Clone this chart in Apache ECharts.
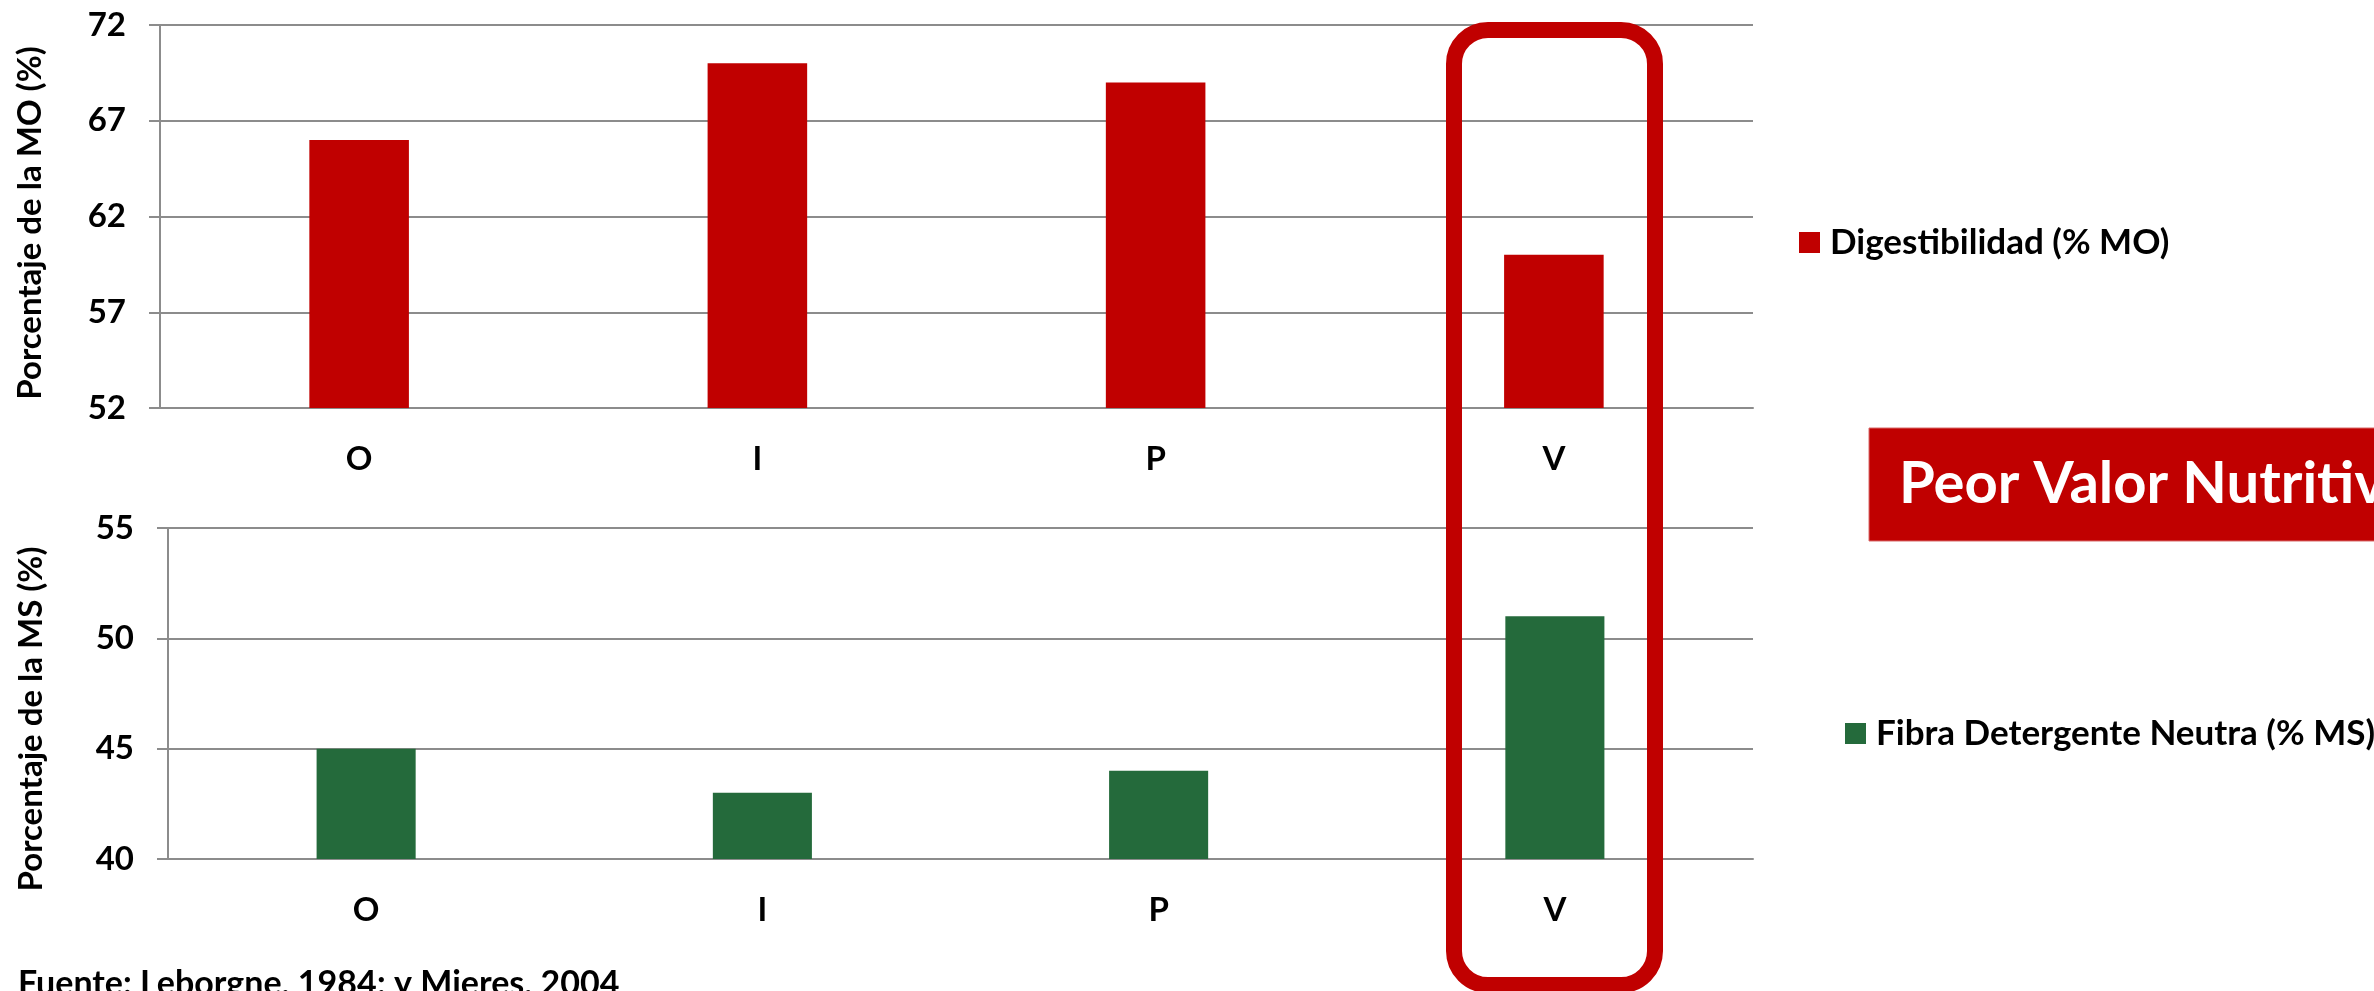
<!DOCTYPE html>
<html>
<head>
<meta charset="utf-8">
<title>Digestibilidad y FDN por estación</title>
<script src="https://cdn.jsdelivr.net/npm/echarts@6/dist/echarts.min.js"></script>
<style>
  html, body { margin: 0; padding: 0; background: #ffffff; }
  #chart { width: 2374px; height: 991px; }
</style>
</head>
<body>
<div id="chart"></div>
<script>
// Estaciones del año
const estaciones = ['O', 'I', 'P', 'V'];

// Digestibilidad de la materia orgánica (% MO)
const digestibilidad = [66, 70, 69, 60];
// Fibra detergente neutra (% MS)
const fdn = [45, 43, 44, 51];

// Marcas del eje vertical de cada panel
const ticksMO = [52, 57, 62, 67, 72];
const ticksMS = [40, 45, 50, 55];

const FONT = 'Lato, "Open Sans", sans-serif';
const ROJO = '#C00000';
const VERDE = '#246A3B';
const GRIS = '#8c8c8c';

const chart = echarts.init(document.getElementById('chart'), null, { renderer: 'canvas' });

function ejeY(ticks) {
  return {
    type: 'value',
    min: ticks[0],
    max: ticks[ticks.length - 1],
    axisLine: { show: true, lineStyle: { color: GRIS, width: 2 } },
    axisTick: { show: true, length: 11, lineStyle: { color: GRIS, width: 2 }, customValues: ticks },
    axisLabel: { fontFamily: FONT, fontWeight: 'bold', fontSize: 33, color: '#000', margin: 34, customValues: ticks },
    splitLine: { show: true, lineStyle: { color: GRIS, width: 2 } }
  };
}

function ejeX(idx) {
  return {
    type: 'category',
    gridIndex: idx,
    data: estaciones,
    axisLine: { show: true, lineStyle: { color: GRIS, width: 2 } },
    axisTick: { show: false },
    axisLabel: { fontFamily: FONT, fontWeight: 'bold', fontSize: 33, color: '#000', margin: 35 }
  };
}

// Título vertical de cada eje Y
function tituloEje(texto, x, y) {
  return {
    type: 'text', z: 100,
    x: x, y: y,
    rotation: Math.PI / 2,
    style: {
      text: texto, fill: '#000000', font: 'bold 33px ' + FONT,
      align: 'center', verticalAlign: 'middle'
    }
  };
}

const option = {
  backgroundColor: '#ffffff',
  animation: false,
  grid: [
    { left: 160, right: 621, top: 25, height: 383 },
    { left: 168, right: 621, top: 528, height: 331 }
  ],
  xAxis: [ejeX(0), ejeX(1)],
  yAxis: [
    Object.assign(ejeY(ticksMO), { gridIndex: 0 }),
    Object.assign(ejeY(ticksMS), { gridIndex: 1, interval: 5 })
  ],
  legend: [
    {
      data: ['Digestibilidad (% MO)'],
      left: 1799, top: 225,
      padding: 0,
      itemWidth: 21, itemHeight: 21, icon: 'rect',
      textStyle: { fontFamily: FONT, fontWeight: 'bold', fontSize: 35, color: '#000', lineHeight: 35, padding: [0, 0, 0, 5] }
    },
    {
      data: ['Fibra Detergente Neutra (% MS)'],
      left: 1845, top: 716,
      padding: 0,
      itemWidth: 21, itemHeight: 21, icon: 'rect',
      textStyle: { fontFamily: FONT, fontWeight: 'bold', fontSize: 35, color: '#000', lineHeight: 35, padding: [0, 0, 0, 5], overflow: 'none' }
    }
  ],
  series: [
    {
      name: 'Digestibilidad (% MO)',
      type: 'bar',
      xAxisIndex: 0, yAxisIndex: 0,
      barWidth: '25%',
      itemStyle: { color: ROJO },
      data: digestibilidad
    },
    {
      name: 'Fibra Detergente Neutra (% MS)',
      type: 'bar',
      xAxisIndex: 1, yAxisIndex: 1,
      barWidth: '25%',
      itemStyle: { color: VERDE },
      data: fdn
    }
  ],
  graphic: [
    tituloEje('Porcentaje de la MO (%)', 30, 223),
    tituloEje('Porcentaje de la MS (%)', 31, 719),
    // Recuadro redondeado que destaca el verano
    {
      type: 'rect', z: 100,
      shape: { x: 1454, y: 30, width: 201, height: 955, r: 34 },
      style: { fill: 'none', stroke: ROJO, lineWidth: 16 }
    },
    // Cartel de conclusión
    {
      type: 'rect', z: 100,
      shape: { x: 1869, y: 428, width: 700, height: 113 },
      style: { fill: ROJO, stroke: '#d86a6a', lineWidth: 1 }
    },
    {
      type: 'text', z: 101,
      left: 1899, top: 455,
      style: { text: 'Peor Valor Nutritivo', fill: '#ffffff', font: 'bold 58px ' + FONT }
    },
    // Fuente de los datos
    {
      type: 'text', z: 100,
      left: 18, top: 967,
      style: { text: 'Fuente: Leborgne, 1984; y Mieres, 2004', fill: '#000000', font: 'bold 34px ' + FONT }
    }
  ]
};

chart.setOption(option);
</script>
</body>
</html>
